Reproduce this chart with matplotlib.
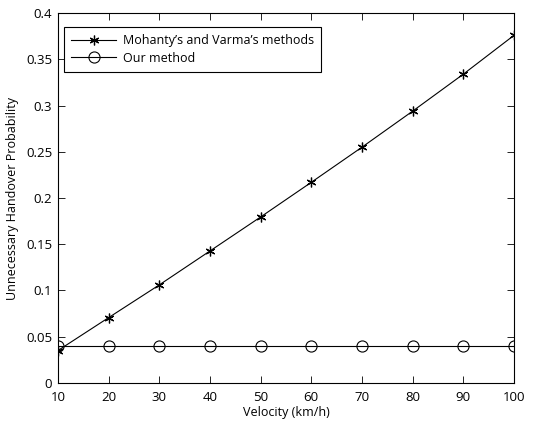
import matplotlib
matplotlib.use("Agg")
import matplotlib.pyplot as plt

# Data
velocity = [10, 20, 30, 40, 50, 60, 70, 80, 90, 100]
mohanty_varma = [0.035, 0.0706, 0.106, 0.1427, 0.1795, 0.217, 0.255, 0.294, 0.334, 0.376]
our_method = [0.04, 0.04, 0.04, 0.04, 0.04, 0.04, 0.04, 0.04, 0.04, 0.04]

x_ticks = [10, 20, 30, 40, 50, 60, 70, 80, 90, 100]
y_ticks = [0, 0.05, 0.1, 0.15, 0.2, 0.25, 0.3, 0.35, 0.4]
y_labels = ["0", "0.05", "0.1", "0.15", "0.2", "0.25", "0.3", "0.35", "0.4"]

plt.rcParams["font.family"] = ["Open Sans", "DejaVu Sans"]
plt.rcParams["font.size"] = 9

fig = plt.figure(figsize=(5.41, 4.25), dpi=100)
ax = fig.add_axes([0.107, 0.099, 0.843, 0.870])

ax.plot(velocity, mohanty_varma, color="black", linewidth=0.8, marker=(6, 2, 0),
        markersize=7, markeredgewidth=0.9, label="Mohanty\u2019s and Varma\u2019s methods")
ax.plot(velocity, our_method, color="black", linewidth=0.8, marker="o",
        markersize=8, markerfacecolor="none", markeredgewidth=0.8, label="Our method")

ax.set_xlim(10, 100)
ax.set_ylim(0, 0.4)
ax.set_xticks(x_ticks)
ax.set_yticks(y_ticks)
ax.set_yticklabels(y_labels)
ax.tick_params(direction="in", top=True, right=True, length=5, width=0.6, labelsize=9.5)
ax.tick_params(axis="x", pad=6)
ax.tick_params(axis="y", pad=4)
for spine in ax.spines.values():
    spine.set_linewidth(0.8)

ax.set_xlabel("Velocity (km/h)", fontsize=9, labelpad=1)
ax.set_ylabel("Unnecessary Handover Probability", fontsize=9, labelpad=5)

leg = ax.legend(loc="upper left", bbox_to_anchor=(0.005, 0.973), frameon=True,
                fancybox=False, edgecolor="black", framealpha=1, fontsize=9,
                handlelength=3.6, borderpad=0.6, labelspacing=0.35, handletextpad=0.5,
                borderaxespad=0.3)
leg.get_frame().set_linewidth(0.8)

fig.savefig("out.png", dpi=100)
